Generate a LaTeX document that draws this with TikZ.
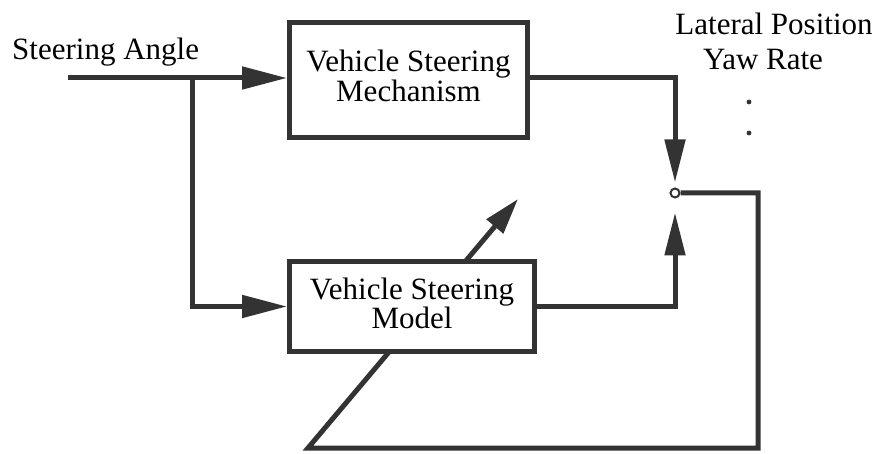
\documentclass[tikz,border=0pt]{standalone}
\usepackage{fontspec}
\setmainfont{Liberation Serif}
\usetikzlibrary{arrows.meta}
\definecolor{ink}{HTML}{333333}
\begin{document}
\begin{tikzpicture}[x=1pt,y=-1pt,
  wire/.style={draw=ink,line width=5pt,line join=miter},
  arr/.style={-{Triangle[length=45pt,width=22pt]}},
  varr/.style={-{Triangle[length=43pt,width=20pt]}},
  darr/.style={-{Triangle[length=36pt,width=21pt]}},
  blockbox/.style={draw=ink,line width=5pt,fill=white,inner sep=0pt,align=center,
    font=\fontsize{31}{30}\selectfont},
  lbl/.style={inner sep=0pt,font=\fontsize{31}{32}\selectfont}]
\useasboundingbox (0,0) rectangle (875,454);
% feedback diagonal (drawn first, box covers it)
\coordinate (adj) at (518,199);
\coordinate (fbA) at (758,193);
\coordinate (fbB) at (758,448);
\coordinate (fbC) at (308,448);
\node[draw=ink,line width=2pt,circle,fill=white,minimum size=9pt,inner sep=0pt] (sum) at (675,193) {};
\draw[wire,darr] (sum.east) -- (fbA) -- (fbB) -- (fbC) -- (adj);
% boxes
\node[blockbox,minimum width=238pt,minimum height=115pt,text depth=8pt] (m1) at (408.5,80) {Vehicle Steering\\Mechanism};
\node[blockbox,minimum width=245pt,minimum height=90pt,text depth=6pt,font=\fontsize{31}{25}\selectfont] (m2) at (412,306.5) {Vehicle Steering\\Model};
% input
\coordinate (in) at (68,78);
\coordinate (br) at (192,78);
\draw[wire,arr] (in) -- (m1.west |- in);
\draw[wire,arr] (br) |- (m2.west);
% outputs
\draw[wire,varr,shorten >=5pt] (m1.east |- in) -| (sum.north);
\draw[wire,varr,shorten >=14pt] (m2.east) -| (sum.south);
% labels
\node[lbl,anchor=base west] (sa) at (12,60) {Steering Angle};
\node[lbl,anchor=base] (lp) at (774,35) {Lateral Position};
\node[lbl,anchor=base] (yr) at (763,70) {Yaw Rate};
\fill[ink] (749,102) circle (2.4pt) (749,133) circle (2.4pt);
\end{tikzpicture}
\end{document}
